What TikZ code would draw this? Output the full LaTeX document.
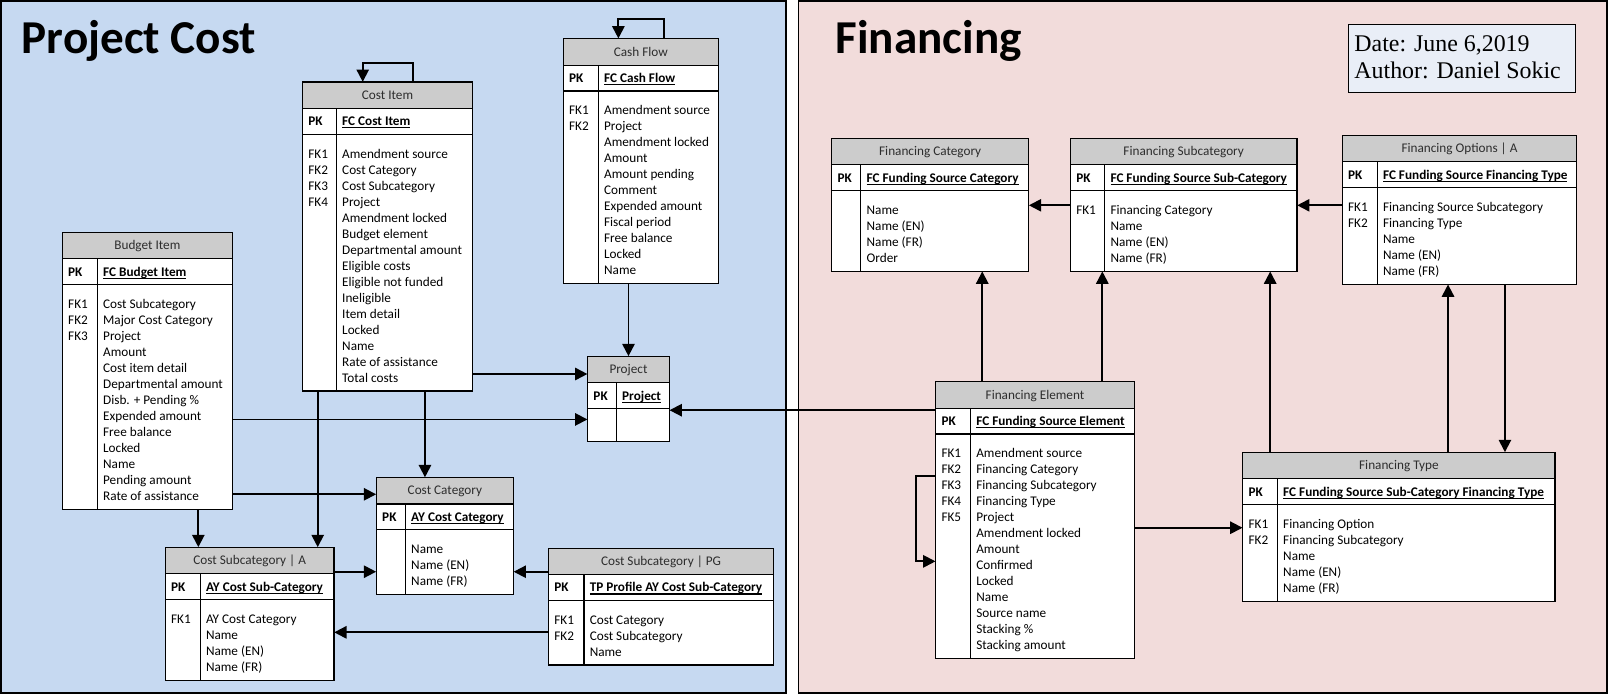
\documentclass[tikz,border=0pt]{standalone}
\usepackage{fontspec}
\setmainfont{Carlito}
\newfontfamily\stampfont{Liberation Serif}
\usetikzlibrary{arrows.meta,fit}

\definecolor{costblue}{RGB}{198,217,241}
\definecolor{finpink}{RGB}{242,220,219}
\definecolor{stampfill}{RGB}{233,238,247}
\definecolor{headgray}{RGB}{204,204,204}
\definecolor{headink}{RGB}{45,45,45}

\newcommand{\cellfont}{\fontsize{12.9}{15.6}\selectfont}
\newsavebox{\keybox}
\newcommand{\pkey}[1]{\sbox{\keybox}{\bfseries #1}\rlap{\vrule height -1.5pt depth 2.6pt width \wd\keybox}\usebox{\keybox}}

\tikzset{
	panel/.style={line width=1.5pt},
	paneltitle/.style={anchor=base west, inner sep=0pt, font=\fontsize{46}{50}\selectfont\bfseries},
	stampbox/.style={draw, line width=1.1pt, fill=stampfill, inner sep=0pt},
	stamptext/.style={anchor=base west, inner sep=0pt, font=\stampfont\fontsize{23.3}{28}\selectfont},
	entity/.style={inner sep=0pt, fill=white},
	headfill/.style={fill=headgray},
	rule/.style={line width=1.2pt},
	headtext/.style={anchor=base, inner sep=0pt, text=headink, font=\cellfont},
	celltext/.style={anchor=base west, inner sep=0pt, font=\cellfont},
	link/.style={line width=1.8pt, -{Triangle[length=12pt,width=12pt]}},
}

% name, left, right, top, divider, title, key, number of FK, rows
\newcommand{\erbox}[9]{%
	\foreach \attr [count=\i] in {#9} {\xdef\nrows{\i}}%
	\pgfmathsetmacro\tbot{#4+67.2+15.6*\nrows}%
	\coordinate (#1-nw) at (#2,#4);
	\coordinate (#1-se) at (#3,\tbot);
	\node[entity, fit=(#1-nw)(#1-se)] (#1) {};
	\fill[headfill] (#2,#4) rectangle (#3,#4+25.8);
	\draw[rule] (#2,#4+25.8) -- (#3,#4+25.8) (#2,#4+51) -- (#3,#4+51) (#5,#4+25.8) -- (#5,\tbot);
	\node[headtext] (#1-title) at ({(#2+#3)/2},#4+17) {#6};
	\node[celltext] (#1-pk) at (#2+5.5,#4+42.7) {\bfseries PK};
	\node[celltext] (#1-key) at (#5+5.5,#4+42.7) {\pkey{#7}};
	\foreach \attr [count=\i] in {#9} {
		\ifnum\i>#8\else\node[celltext] (#1-fk\i) at (#2+5.5,#4+58.6+15.6*\i) {FK\i};\fi
		\node[celltext] (#1-row\i) at (#5+5.5,#4+58.6+15.6*\i) {\attr};
	}
	\draw[rule] (#1-nw) rectangle (#1-se);
}

\begin{document}
\begin{tikzpicture}[x=1pt,y=-1pt]
	\useasboundingbox (0,0) rectangle (1568,678.7);
	% panels
	\fill[costblue] (0.8,0.8) rectangle (766.5,676);
	\draw[panel] (0.8,0.8) rectangle (766.5,676);
	\fill[finpink] (778.5,0.8) rectangle (1567.2,676);
	\draw[panel] (778.5,0.8) rectangle (1567.2,676);
	\node[paneltitle] (costtitle) at (21,52) {Project Cost};
	\node[paneltitle] (fintitle) at (814.6,52) {Financing};
	\coordinate (stamp-nw) at (1314.6,23.7);
	\coordinate (stamp-se) at (1536,90);
	\node[stampbox, fit=(stamp-nw)(stamp-se)] (stamp) {};
	\node[stamptext] (date) at (1320.5,50.4) {Date: June 6,2019};
	\node[stamptext] (author) at (1320.5,77) {Author: Daniel Sokic};

	% project cost
	\erbox{ci}{295}{460.6}{80}{328}{Cost Item}{FC Cost Item}{4}{Amendment source, Cost Category, Cost Subcategory, Project, Amendment locked, Budget element, Departmental amount, Eligible costs, Eligible not funded, Ineligible, Item detail, Locked, Name, Rate of assistance, Total costs}
	\erbox{cf}{549.3}{700.5}{37.7}{583.4}{Cash Flow}{FC Cash Flow}{2}{Amendment source, Project, Amendment locked, Amount, Amount pending, Comment, Expended amount, Fiscal period, Free balance, Locked, Name}
	\erbox{bi}{60.8}{226.6}{226.6}{94.9}{Budget Item}{FC Budget Item}{3}{Cost Subcategory, Major Cost Category, Project, Amount, Cost item detail, Departmental amount, Disb. + Pending \%, Expended amount, Free balance, Locked, Name, Pending amount, Rate of assistance}
	\erbox{prj}{573}{652.7}{347.5}{601}{Project}{Project}{0}{~}
	\erbox{cc}{367}{500.7}{465.6}{395.3}{Cost Category}{AY Cost Category}{0}{Name, Name (EN), Name (FR)}
	\erbox{csa}{161.2}{325.7}{533.7}{195.2}{Cost Subcategory | A}{AY Cost Sub-Category}{1}{AY Cost Category, Name, Name (EN), Name (FR)}
	\erbox{cspg}{534.9}{754.3}{534.5}{569.4}{Cost Subcategory | PG}{TP Profile AY Cost Sub-Category}{2}{Cost Category, Cost Subcategory, Name}

	% financing
	\erbox{fc}{811}{1003.1}{134.9}{839.4}{Financing Category}{FC Funding Source Category}{0}{Name, Name (EN), Name (FR), Order}
	\erbox{fs}{1043.8}{1264.7}{134.9}{1077.2}{Financing Subcategory}{FC Funding Source Sub-Category}{1}{Financing Category, Name, Name (EN), Name (FR)}
	\erbox{fo}{1308.9}{1537.5}{132}{1342.9}{Financing Options | A}{FC Funding Source Financing Type}{2}{Financing Source Subcategory, Financing Type, Name, Name (EN), Name (FR)}
	\erbox{fe}{912.4}{1106.1}{372.2}{946.3}{Financing Element}{FC Funding Source Element}{5}{Amendment source, Financing Category, Financing Subcategory, Financing Type, Project, Amendment locked, Amount, Confirmed, Locked, Name, Source name, Stacking \%, Stacking amount}
	\erbox{ft}{1211.8}{1516.4}{441.1}{1245.6}{Financing Type}{FC Funding Source Sub-Category Financing Type}{2}{Financing Option, Financing Subcategory, Name, Name (EN), Name (FR)}

	% self references
	\draw[link] (403,0 |- ci.north) |- (353.7,61.6) -- (353.7,0 |- ci.north);
	\draw[link] (647.8,0 |- cf.north) |- (603,18.9) -- (603,0 |- cf.north);
	\draw[link] (fe.west |- 0,464.5) -| (893.5,547.4) -- (fe.west |- 0,547.4);

	% links
	\draw[link] (prj.north |- cf.south) -- (prj.north);
	\draw[link] (ci.east |- 0,364.7) -- (prj.west |- 0,364.7);
	\draw[link] (bi.east |- 0,409) -- (prj.west |- 0,409);
	\draw[link] (fe.west |- 0,400) -- (prj.east |- 0,400);
	\draw[link] (bi.east |- 0,482) -- (cc.west |- 0,482);
	\draw[link] (414.4,0 |- ci.south) -- (414.4,0 |- cc.north);
	\draw[link] (csa.east |- 0,557.5) -- (cc.west |- 0,557.5);
	\draw[link] (cspg.west |- 0,557.5) -- (cc.east |- 0,557.5);
	\draw[link] (cspg.west |- 0,616.6) -- (csa.east |- 0,616.6);
	\draw[link] (193.4,0 |- bi.south) -- (193.4,0 |- csa.north);
	\draw[link] (309.8,0 |- ci.south) -- (309.8,0 |- csa.north);
	\draw[link] (fs.west |- 0,200.2) -- (fc.east |- 0,200.2);
	\draw[link] (fo.west |- 0,200.2) -- (fs.east |- 0,200.2);
	\draw[link] (957.8,0 |- fe.north) -- (957.8,0 |- fc.south);
	\draw[link] (1074.9,0 |- fe.north) -- (1074.9,0 |- fs.south);
	\draw[link] (fe.east |- 0,514.6) -- (ft.west |- 0,514.6);
	\draw[link] (1238.6,0 |- ft.north) -- (1238.6,0 |- fs.south);
	\draw[link] (1412,0 |- ft.north) -- (1412,0 |- fo.south);
	\draw[link] (1467.5,0 |- fo.south) -- (1467.5,0 |- ft.north);
\end{tikzpicture}
\end{document}
